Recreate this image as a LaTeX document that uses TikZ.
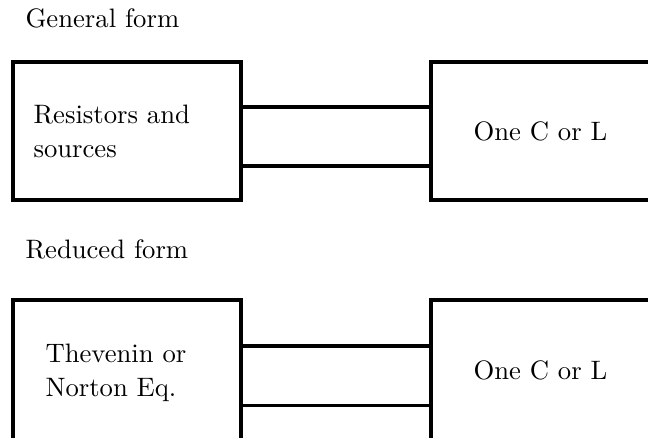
\documentclass[tikz,border=0pt]{standalone}
\begin{document}
\begin{tikzpicture}[x=0.75pt,y=-0.75pt,
  box/.style={draw,line width=2.3pt,inner sep=0pt,rectangle},
  wire/.style={line width=2.3pt},
  lbl/.style={inner sep=0pt,anchor=base west,scale=2,font=\fontsize{10}{12.75}\selectfont,align=left}]
\clip (0,0) rectangle (648,437);
\useasboundingbox (0,0) rectangle (648,437);
% top
\node[box,minimum width=171pt,minimum height=103.5pt] (lt) at (127,131) {};
\node[box,minimum width=201.75pt,minimum height=103.5pt] (rt) at (565.5,131) {};
\draw[wire] ([yshift=18pt]lt.east) -- ([yshift=18pt]rt.west);
\draw[wire] ([yshift=-26.25pt]lt.east) -- ([yshift=-26.25pt]rt.west);
\node[lbl] (t1) at (25,27) {General form};
\node[lbl] (t2) at (33,157.3) {Resistors and\\sources};
\node[lbl] (t3) at (473,140) {One C or L};
% bottom (boxes run past the lower edge)
\node[box,minimum width=171pt,minimum height=108.75pt] (lb) at (127,372.5) {};
\node[box,minimum width=201.75pt,minimum height=108.75pt] (rb) at (565.5,372.5) {};
\draw[wire] ([yshift=19.9pt]lb.east) -- ([yshift=19.9pt]rb.west);
\draw[wire] ([yshift=-24.4pt]lb.east) -- ([yshift=-24.4pt]rb.west);
\node[lbl] (b1) at (25,258) {Reduced form};
\node[lbl] (b2) at (45,396.7) {Thevenin or\\Norton Eq.};
\node[lbl] (b3) at (473,379.3) {One C or L};
\end{tikzpicture}
\end{document}
